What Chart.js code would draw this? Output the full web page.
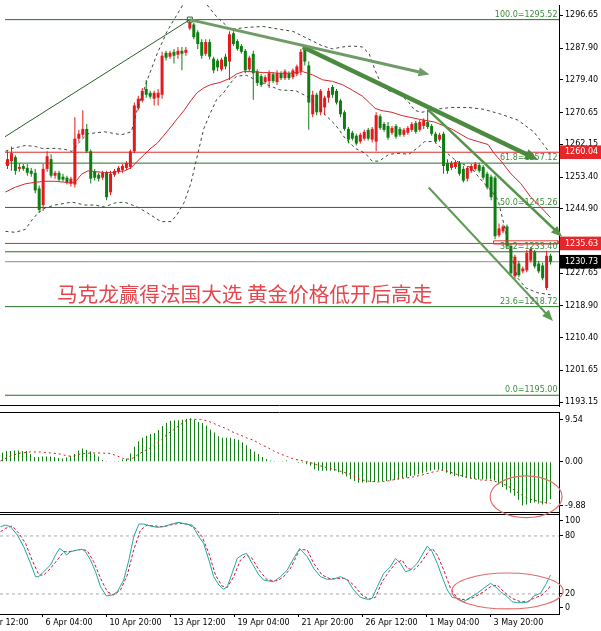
<!DOCTYPE html>
<html><head><meta charset="utf-8"><title>XAUUSD H4</title>
<script src="https://cdn.jsdelivr.net/npm/chart.js@4.4.1/dist/chart.umd.min.js"></script>
<style>
html,body{margin:0;padding:0;background:#fff;overflow:hidden;}
#wrap{position:relative;width:601px;height:631px;background:#fff;}
#wrap canvas{position:absolute;left:0;}
</style></head><body>
<div id="wrap">
<canvas id="cMain" width="601" height="411" style="top:0px;width:601px;height:411px;z-index:1"></canvas>
<canvas id="cStoch" width="601" height="117" style="top:514px;width:601px;height:117px;z-index:1"></canvas>
<canvas id="cMacd" width="601" height="108" style="top:412px;width:601px;height:108px;z-index:2"></canvas>
</div>
<script>
// ---------------- DATA ----------------
const candleOpen = [1256.36,1257.66,1258.71,1255.58,1256.36,1255.84,1255.05,1254.53,1250.35,1245.91,1255.58,1258.19,1253.75,1254.53,1253.49,1253.23,1251.66,1251.40,1263.67,1264.71,1266.28,1260.27,1254.79,1254.01,1253.23,1254.53,1249.31,1254.01,1254.79,1255.31,1255.84,1256.10,1260.27,1271.76,1273.85,1276.99,1275.94,1274.37,1274.64,1275.42,1286.65,1285.60,1286.91,1286.12,1287.17,1286.65,1293.17,1294.22,1292.13,1289.52,1286.38,1289.52,1285.08,1284.56,1282.21,1285.60,1284.30,1291.87,1289.78,1288.47,1287.17,1282.21,1286.38,1281.69,1280.38,1278.81,1279.07,1280.90,1278.81,1281.16,1279.86,1281.16,1280.12,1280.90,1281.69,1287.69,1283.25,1270.20,1275.42,1270.72,1272.02,1274.64,1277.51,1276.46,1273.85,1270.72,1266.28,1265.24,1264.45,1262.89,1263.67,1266.02,1263.41,1262.89,1269.67,1267.59,1267.06,1265.24,1267.06,1266.28,1264.71,1265.24,1266.02,1267.85,1266.02,1267.06,1268.11,1267.06,1264.97,1263.41,1264.97,1257.14,1255.84,1256.10,1257.14,1255.58,1252.96,1255.05,1255.58,1256.62,1256.10,1254.27,1253.49,1253.23,1237.82,1238.86,1240.17,1234.95,1226.85,1230.25,1228.16,1228.42,1231.03,1233.38,1230.25,1229.73,1223.72,1232.34];
const candleHigh = [1260.27,1261.58,1259.23,1257.14,1256.88,1256.88,1255.84,1255.58,1251.14,1256.88,1260.27,1259.49,1255.05,1255.05,1254.27,1253.75,1253.49,1269.41,1266.02,1271.24,1267.59,1260.80,1255.58,1254.53,1255.05,1255.05,1255.05,1255.58,1256.36,1256.88,1257.66,1260.80,1273.33,1275.16,1277.25,1279.34,1276.46,1276.46,1276.99,1286.91,1287.17,1287.17,1287.69,1288.21,1288.21,1288.21,1295.52,1294.74,1292.65,1290.30,1290.30,1290.30,1285.60,1285.08,1285.34,1286.38,1292.39,1292.39,1290.30,1289.00,1287.69,1285.86,1287.17,1282.21,1280.90,1280.64,1281.95,1281.42,1281.95,1281.69,1282.21,1281.69,1282.47,1283.51,1287.69,1288.21,1284.30,1276.46,1275.94,1276.99,1275.16,1277.25,1278.03,1276.99,1274.37,1271.24,1266.80,1265.76,1264.97,1265.24,1266.02,1266.54,1266.80,1270.72,1270.20,1268.11,1268.11,1267.06,1267.59,1266.80,1266.54,1267.06,1268.11,1268.37,1268.63,1269.15,1271.50,1267.59,1265.50,1265.24,1265.50,1258.19,1257.66,1257.93,1257.66,1256.36,1256.36,1256.88,1257.40,1257.14,1256.62,1254.79,1254.01,1253.75,1240.95,1240.69,1240.69,1235.47,1232.60,1231.03,1229.47,1233.90,1234.69,1233.90,1231.03,1230.51,1233.64,1232.86];
const candleLow = [1255.58,1255.05,1254.01,1254.79,1255.05,1253.75,1253.49,1249.05,1243.83,1244.35,1254.79,1253.23,1252.96,1252.18,1252.18,1251.40,1250.88,1250.61,1262.89,1263.93,1259.75,1251.66,1252.44,1252.18,1252.70,1247.22,1248.53,1253.49,1254.27,1254.53,1255.31,1255.58,1259.75,1271.24,1273.33,1274.64,1274.37,1272.55,1272.55,1274.37,1284.56,1285.08,1283.77,1285.08,1281.95,1285.86,1292.65,1290.30,1287.69,1285.08,1285.86,1284.82,1281.16,1281.69,1281.69,1282.21,1279.34,1288.47,1287.17,1286.38,1281.16,1281.69,1274.11,1277.77,1277.51,1278.29,1277.25,1278.55,1278.03,1279.34,1279.34,1279.34,1279.60,1280.38,1280.64,1283.25,1266.02,1269.41,1269.94,1269.94,1269.94,1273.33,1274.64,1272.81,1269.41,1265.76,1262.36,1263.15,1261.84,1262.36,1263.15,1263.15,1262.62,1260.27,1266.02,1265.50,1263.41,1264.71,1263.67,1264.19,1264.19,1264.71,1265.50,1264.97,1265.50,1266.28,1266.28,1264.45,1262.36,1262.89,1254.27,1254.27,1255.31,1255.58,1253.75,1251.92,1252.18,1254.53,1255.05,1254.53,1252.70,1250.09,1247.22,1236.78,1237.30,1238.34,1234.16,1226.85,1226.07,1226.59,1227.64,1227.90,1230.51,1228.94,1227.64,1225.81,1223.20,1229.99];
const candleClose = [1258.19,1259.75,1255.05,1256.10,1255.58,1254.53,1254.27,1249.83,1244.61,1255.58,1258.97,1253.75,1254.53,1252.70,1252.70,1251.92,1252.96,1263.67,1264.97,1266.28,1260.27,1252.96,1253.23,1252.96,1254.53,1248.00,1254.27,1255.05,1255.84,1256.36,1257.14,1260.27,1272.55,1274.37,1276.46,1275.42,1274.90,1275.94,1275.94,1285.86,1285.34,1286.65,1285.86,1287.17,1286.38,1287.43,1294.74,1290.82,1289.00,1285.86,1289.52,1285.60,1281.95,1282.73,1284.82,1282.99,1291.61,1289.00,1287.69,1286.91,1281.95,1285.34,1281.16,1278.55,1278.03,1280.12,1281.16,1279.07,1281.16,1279.86,1281.69,1279.86,1281.95,1282.99,1286.91,1284.30,1273.33,1275.42,1270.72,1276.46,1274.64,1276.46,1275.42,1273.33,1270.20,1266.28,1263.41,1263.67,1262.36,1264.71,1265.50,1263.67,1266.28,1269.94,1266.54,1266.02,1263.93,1266.54,1264.19,1264.71,1266.02,1266.54,1267.59,1265.50,1268.11,1268.63,1266.80,1264.97,1262.89,1264.71,1256.36,1255.05,1257.14,1257.40,1254.27,1252.44,1255.84,1256.36,1256.88,1255.05,1253.23,1250.61,1248.00,1237.56,1239.65,1240.17,1234.95,1227.64,1232.08,1227.12,1228.94,1233.12,1234.16,1229.47,1228.16,1226.33,1232.34,1230.73];

// moving average and Bollinger bands: [bar index, price]
const maLine = [[-0.5,1249.39],[2,1250.7],[4.5,1251.58],[7,1252.0],[9.5,1252.26],[12,1252.26],[14.5,1252.0],[16.2,1251.74],[17.4,1252.44],[18.7,1254.17],[20.3,1255.05],[22,1254.87],[24.5,1254.6],[26.2,1254.6],[27.8,1254.87],[29.5,1255.05],[31.2,1255.91],[32.8,1257.66],[34.5,1259.41],[36.2,1261.15],[37.8,1262.45],[39.5,1264.63],[41.2,1266.8],[42.8,1268.97],[44.5,1271.16],[46.2,1273.77],[47.8,1275.94],[49.5,1277.24],[51.2,1278.11],[53.7,1278.73],[56.2,1279.85],[57.8,1280.98],[59.5,1281.6],[62,1281.6],[64.5,1281.34],[66.2,1281.34],[68.7,1281.16],[71.2,1281.16],[74.5,1281.6],[77,1280.72],[79.5,1279.41],[82,1279.0],[84.5,1278.11],[87,1276.64],[89.5,1275.07],[91.25,1273.33],[92.75,1271.76],[94.5,1271.16],[97,1270.72],[99.5,1269.85],[103.75,1268.89],[107.75,1268.11],[112,1266.28],[116.25,1263.67],[118.75,1262.88],[121.25,1262.1],[122.75,1259.75],[124.5,1257.66],[127,1254.27],[129.5,1251.66],[132,1248.0],[134.5,1245.39],[137,1242.52]];
const bbUpper = [[-0.5,1260.3],[1.25,1261.06],[4.5,1261.84],[7,1261.58],[8.75,1261.06],[12,1261.06],[14.5,1260.80],[16.25,1260.27],[18.25,1262.89],[20.25,1264.97],[24.5,1265.50],[28.75,1264.71],[31.25,1265.50],[32.75,1271.50],[35.25,1279.34],[37.75,1286.38],[40.25,1292.39],[42.75,1296.83],[44.5,1299.96],[46.25,1301.53],[48.25,1302.05],[49.5,1300.75],[50.75,1298.92],[52.75,1296.31],[56.25,1292.91],[60.25,1293.43],[64.5,1293.70],[68.75,1292.91],[72,1292.39],[74.5,1291.08],[77,1289.78],[79.5,1288.47],[82,1287.69],[84.5,1288.21],[87,1288.47],[89.5,1288.21],[91.25,1286.38],[92.75,1281.95],[94.5,1277.77],[96.25,1276.46],[98.75,1275.94],[101.25,1273.33],[102.75,1271.24],[104.5,1270.72],[107.75,1271.50],[112,1272.02],[116.25,1272.02],[120.25,1271.50],[124.5,1270.20],[128.75,1268.63],[132.75,1265.50],[135.25,1262.10],[137,1259.49]];
const bbLower = [[-0.5,1238.86],[2,1238.60],[4.5,1239.39],[6.25,1242.0],[7.75,1243.83],[9.5,1245.13],[12,1245.91],[16.25,1246.70],[19.5,1245.91],[22,1245.91],[24.5,1245.39],[27,1246.44],[29.5,1246.70],[32.75,1245.39],[35.25,1243.83],[38.75,1241.47],[41.25,1241.47],[42.75,1243.30],[44.5,1246.44],[46.25,1251.66],[47.75,1258.45],[49.5,1266.28],[51.25,1270.72],[52.75,1274.11],[54.5,1275.94],[56.25,1278.55],[57.75,1280.38],[60.25,1280.64],[63.25,1279.07],[66.25,1277.77],[68.75,1276.72],[72.75,1276.46],[76.25,1274.64],[79.5,1270.72],[82.75,1267.33],[85.25,1263.67],[87.75,1261.06],[90.25,1259.75],[92,1257.66],[93.75,1257.66],[96.25,1259.49],[98.75,1259.75],[101.25,1259.49],[103.25,1261.06],[105.25,1262.89],[107.75,1262.89],[109.5,1261.06],[113.25,1257.66],[117,1255.84],[120.25,1251.66],[122,1249.83],[123.75,1247.22],[125.25,1240.69],[127,1232.86],[128.75,1226.33],[130.75,1223.72],[133.75,1222.42],[137,1221.89]];

// drawn objects (bar index, price)
const fibLevels = [100.0, 61.8, 50.0, 38.2, 23.6, 0.0];
const fibPrices = [1295.52, 1257.12, 1245.26, 1233.40, 1218.72, 1195.00];
const redLevels = [1260.04, 1235.63];
const bidPrice = 1230.73;
const fibDiagonal = [[-0.625,1264.19],[46,1295.52]];
const fibAnchor = [[46,1295.52]];
const arrowA = [[46,1295.52],[105.25,1281.16]];
const arrowB = [[74.5,1288.21],[132.5,1258.71]];
const arrowC = [[106.25,1271.24],[139,1238.34]];
const arrowD = [[106.25,1250.61],[136.75,1215.87]];
const priceBox = [[122.6,1236.33],[138.9,1236.33],[138.9,1235.47],[122.6,1235.47],[122.6,1236.33]];
const headline = '马克龙赢得法国大选 黄金价格低开后高走';
// highlight ellipses: [centre bar index, centre value, radius in bars, radius in value units]
const macdEllipse = [130.9, -6.9, 9.0, 4.1];
const stochEllipse = [126.25, 23.1, 13.9, 18.6];

// axis labels
const priceTicks = [1296.65,1287.90,1279.40,1270.65,1262.15,1253.40,1244.90,1227.65,1218.90,1210.40,1201.65,1193.15];
const markedPrices = [1260.04, 1235.63, 1230.73];
const markedColors = ['#e5262b', '#e5262b', '#000000'];
const timeTickIdx = [-6, 10, 26, 42, 58, 74, 90, 106, 122];
const timeLabels = ['3 Apr 12:00','6 Apr 04:00','10 Apr 20:00','13 Apr 12:00','19 Apr 04:00','21 Apr 20:00','26 Apr 12:00','1 May 04:00','3 May 20:00'];
const macdTicks = [9.54, 0.00, -9.88];
const stochTicks = [100, 80, 20, 0];
const stochLevels = [80, 20];

// MACD
const macdHist = [1.8,2.1,2.1,2.2,2.2,2.1,2.1,1.5,0.9,0.9,1.0,1.0,1.0,0.9,0.7,0.6,0.8,1.1,1.5,2.2,2.6,2.3,2.0,1.5,1.0,0.3,0.1,0.1,0.1,0.1,0.4,0.6,1.6,2.9,4.0,4.7,5.1,5.4,5.6,6.2,7.0,7.6,8.0,8.1,8.1,8.2,8.4,8.5,8.2,7.8,7.6,7.1,6.3,5.7,5.0,4.7,4.7,4.7,4.5,4.3,3.8,3.2,2.5,2.0,1.5,0.9,0.5,0.2,0.1,0.1,0.1,0.2,0.0,0.0,-0.2,-0.2,-0.5,-0.8,-1.5,-1.8,-1.8,-1.8,-1.8,-1.8,-2.1,-2.5,-2.9,-3.4,-3.8,-4.1,-4.1,-4.1,-4.0,-4.0,-3.9,-3.8,-3.8,-3.7,-3.6,-3.5,-3.2,-3.1,-2.8,-2.7,-2.5,-2.3,-2.0,-1.8,-1.6,-1.6,-1.8,-2.2,-2.5,-2.8,-2.9,-3.0,-3.2,-3.3,-3.4,-3.5,-3.5,-3.5,-3.5,-3.7,-4.5,-5.0,-5.5,-6.1,-6.7,-7.5,-8.6,-8.4,-8.1,-8.0,-8.2,-8.4,-8.2,-7.4];
const macdSignal = [[-0.5,0.15],[2,1.1],[4.5,1.7],[7,1.9],[9.5,1.9],[12,1.7],[14.5,1.5],[16.2,1.1],[17.8,1.1],[19.5,1.5],[22,1.7],[24.5,1.7],[27,1.6],[28.7,1.1],[30.3,0.6],[32,0.45],[32.8,0.8],[34.5,1.7],[36.2,2.4],[37.8,3.1],[39.5,4.1],[41.2,5.4],[42.8,6.3],[44.5,7.3],[46.2,8.2],[47.8,8.3],[49.5,8.3],[51.2,8.0],[52.8,7.5],[54.5,6.9],[56.2,6.4],[57.8,5.7],[59.5,5.2],[61.2,4.6],[62.8,4.2],[64.5,3.4],[66.2,2.8],[67.8,2.1],[69.5,1.5],[71.2,1.0],[72.8,0.5],[74.5,0.25],[77,-0.2],[79.5,-0.85],[82.8,-1.5],[87,-2.5],[89.5,-3.5],[91.2,-3.8],[93.7,-4.0],[96.2,-3.8],[99.5,-3.3],[102,-3.1],[104.5,-2.7],[107.8,-2.0],[110.3,-1.6],[112.8,-2.3],[116.2,-3.1],[119.5,-3.6],[122,-3.7],[124.5,-4.1],[127,-5.1],[129.5,-6.4],[132,-7.4],[134.5,-7.9],[137,-8.2]];

// Stochastic
const stochMain = [[-0.5,89.6],[0.75,91.3],[2,89.6],[3.7,81],[5.3,68.9],[7,51.7],[8.25,37.9],[9.1,37.9],[10.3,43],[12,50],[13.25,60.3],[14.3,67.2],[15.3,63.7],[16,60.3],[17,63.7],[18.7,65.5],[19.9,66.2],[20.75,63.7],[22,55.1],[23.25,43],[24.5,27.5],[26,17.9],[27.4,18.9],[28.7,22.3],[30.3,34.4],[31.6,55.1],[32.8,79.2],[34.1,92.3],[35.3,92.3],[37,90.3],[38.7,88.9],[40.3,89.6],[42,92],[44.1,94.1],[45.75,92.3],[47.4,91.3],[49.1,79.2],[50.3,72.4],[51.6,55.1],[52.8,37.9],[54.1,29.3],[55.2,24.8],[56.2,27.5],[57.4,41.4],[58.7,56.9],[59.9,60.3],[61,62],[62.4,51.7],[64.1,39.6],[65.3,34.4],[66.6,33.4],[67.8,32.7],[69.5,37.9],[71.2,44.8],[72.8,56.9],[74.3,67],[76.2,58.5],[77.8,46.5],[79.5,37.9],[81.2,35.1],[82.8,35.5],[84.5,37.9],[86.2,34.4],[87.8,24.1],[89.5,16.5],[91.2,14.5],[92.4,15.5],[93.7,27.5],[95.3,41.4],[97,48.2],[98.25,56.9],[99.5,51.7],[100.75,43],[102,44.8],[103.7,51.7],[104.9,60.3],[106.2,69.6],[107.4,63.7],[108.7,51.7],[109.9,37.9],[111.2,24.1],[112.4,16.5],[113.7,15.5],[115.3,12],[117,16.5],[118.7,20.7],[120.3,25.9],[122,31],[123.25,27.5],[124.5,22.3],[126.2,17.2],[127.4,12],[128.7,11],[130.3,11],[131.6,12],[132.8,17.9],[134.5,20.7],[135.75,29.3],[137,39.6]];
const stochSignal = [[-0.5,84.4],[0.75,87.9],[2.4,90.3],[4.1,82.7],[5.75,72.4],[7.4,55.1],[9.1,39.6],[10.3,39.6],[12,46.5],[13.7,55.1],[15.3,63.7],[16.6,63.7],[17.8,64.7],[19.9,66.2],[21.2,64.7],[22.8,53.4],[24.5,36.2],[26.2,22.3],[27.8,18.9],[29.5,24.1],[31.2,39.6],[32.8,65.5],[34.5,86.1],[36.2,91.3],[37.8,90.3],[40.3,89.6],[42,91.3],[44.1,93.1],[46.2,92.3],[48.25,87.9],[49.9,79.2],[51.6,62],[53.25,39.6],[54.9,28.2],[56.2,26.9],[57.8,37.9],[59.5,55.1],[61,60.3],[62.4,56.9],[64.1,44.8],[66.2,34.4],[68.7,33.7],[70.3,37.9],[72,46.5],[74.3,66],[76.2,65.5],[77.8,51.7],[79.9,39.6],[82,35.5],[84.1,36.2],[85.75,36.2],[87.8,29.3],[89.9,18.9],[91.6,14.5],[93.25,16.5],[94.9,32.7],[96.6,43],[98.25,51.7],[99.9,55.1],[101.2,46.5],[102.8,44.8],[104.5,51.7],[106.2,62],[107.4,67.2],[108.7,60.3],[110.3,44.8],[112,25.9],[113.7,15.5],[115.75,13.8],[117.8,16.5],[119.9,21.3],[122,27.5],[123.7,29.3],[125.3,22.3],[127.4,15.5],[129.5,12],[131.2,12],[132.8,15.5],[134.9,18.9],[136.6,25.9],[137,29.3]];

// ---------------- STYLE / BUILD ----------------
Chart.defaults.font.family = '"DejaVu Sans", sans-serif';
Chart.defaults.font.size = 8;
Chart.defaults.color = '#000';

const X_MIN = -0.625, X_MAX = 139.125;
const UP_COLOR = '#e3191c', DOWN_COLOR = '#0e7e12';
const ELLIPSE_COLOR = '#e36a6a';
const xHidden = {type:'linear', min:X_MIN, max:X_MAX, offset:false, display:false, grid:{offset:false}};
const baseOpts = {responsive:false, maintainAspectRatio:false, animation:false, events:[],
  layout:{padding:0}, plugins:{legend:{display:false}, tooltip:{enabled:false}, title:{display:false}}};

function yRight(min, max, ticks, afterBuildTicks) {
  return {type:'linear', position:'right', min, max, bounds:'data', beginAtZero:false,
    border:{display:true, color:'#000', width:1},
    grid:{drawOnChartArea:false, drawTicks:true, tickLength:4, color:'#000'},
    ticks:Object.assign({autoSkip:false, padding:2, color:'#000', font:{size:8}}, ticks),
    afterBuildTicks,
    afterFit(s){ s.width = 42; s.paddingTop = 0; s.paddingBottom = 0; }};
}
function lineDs(pairs, color, width, dash, order, extra) {
  return Object.assign({type:'line', data:pairs.map(p => ({x:p[0], y:p[1]})), borderColor:color,
    borderWidth:width, borderDash:dash || [], pointRadius:0, fill:false, tension:0, order}, extra || {});
}
function hLine(level, color, dash, order) {
  return lineDs([[X_MIN, level],[X_MAX, level]], color, 1, dash, order);
}
function insetTicks(list, frac) {
  return function(s) {
    const r = s.max - s.min;
    s.ticks = list.map(v => ({value: Math.max(s.min + frac * r, Math.min(s.max - frac * r, v))}));
  };
}
const framePlugin = (top, bottom) => ({id:'frame', afterDraw(chart){
  const {ctx, chartArea:a} = chart;
  ctx.save(); ctx.strokeStyle = '#000'; ctx.lineWidth = 1; ctx.beginPath();
  if (top) { ctx.moveTo(0, a.top + 0.5); ctx.lineTo(a.right, a.top + 0.5); }
  if (bottom) { ctx.moveTo(0, a.bottom - 0.5); ctx.lineTo(a.right, a.bottom - 0.5); }
  ctx.stroke(); ctx.restore();
}});
const ellipsePlugin = (spec) => ({id:'ellipse', afterDraw(chart){
  const {ctx, scales:{x, y}} = chart;
  const cx = x.getPixelForValue(spec[0]), cy = y.getPixelForValue(spec[1]);
  const rx = Math.abs(x.getPixelForValue(spec[0] + spec[2]) - cx);
  const ry = Math.abs(y.getPixelForValue(spec[1] + spec[3]) - cy);
  ctx.save(); ctx.strokeStyle = ELLIPSE_COLOR; ctx.lineWidth = 1.2;
  ctx.beginPath(); ctx.ellipse(cx, cy, rx, ry, 0, 0, Math.PI * 2); ctx.stroke(); ctx.restore();
}});

// ---- main chart ----
const candleColors = candleOpen.map((o, i) => candleClose[i] >= o ? UP_COLOR : DOWN_COLOR);
const mainDatasets = [
  lineDs(arrowA, '#6f9c66', 3, [], 0, {arrowHead:[11, 4.5]}),
  lineDs(arrowB, '#4c8a40', 4.5, [], 0, {arrowHead:[13, 5.5]}),
  lineDs(arrowC, '#559449', 2.5, [], 0, {arrowHead:[11, 4.5]}),
  lineDs(arrowD, '#5f9b56', 2, [], 0, {arrowHead:[11, 4.5]}),
  lineDs(fibAnchor, '#2f5f2f', 1, [], 0, {pointRadius:3.6, pointStyle:'rect', pointBorderColor:'#2f5f2f', pointBackgroundColor:'rgba(255,255,255,0)', pointBorderWidth:1, showLine:false}),
  lineDs(fibDiagonal, '#2a5e2a', 1, [], 1),
  lineDs(priceBox, '#e23a3a', 1, [], 1),
  lineDs(maLine, '#d8262b', 1, [], 2),
  lineDs(bbUpper, '#3b4a3b', 1, [3,3], 2),
  lineDs(bbLower, '#3b4a3b', 1, [3,3], 2),
  {type:'bar', data:candleOpen.map((o, i) => ({x:i, y:[o, candleClose[i]]})), backgroundColor:candleColors,
    barThickness:3, minBarLength:1, grouped:false, inflateAmount:0, order:3},
  {type:'bar', data:candleOpen.map((o, i) => ({x:i, y:[candleLow[i], candleHigh[i]]})), backgroundColor:candleColors,
    barThickness:1, grouped:false, inflateAmount:0, order:4},
  ...fibPrices.map(p => hLine(p, '#237223', [], 5)),
  ...redLevels.map(p => hLine(p, '#e02828', [], 5)),
  hLine(bidPrice, '#8c8c8c', [], 5)
];

const mainDecor = {id:'mainDecor', afterDatasetsDraw(chart){
  const {ctx, chartArea:a, scales:{y}} = chart;
  ctx.save();
  chart.data.datasets.forEach((ds, di) => {
    if (!ds.arrowHead) return;
    const els = chart.getDatasetMeta(di).data;
    const p1 = els[els.length - 2], p2 = els[els.length - 1];
    const ang = Math.atan2(p2.y - p1.y, p2.x - p1.x), c = Math.cos(ang), s = Math.sin(ang);
    const [len, half] = ds.arrowHead;
    const tx = p2.x + c * len * 0.45, ty = p2.y + s * len * 0.45;
    const bx = tx - c * len, by = ty - s * len;
    ctx.fillStyle = ds.borderColor;
    ctx.beginPath(); ctx.moveTo(tx, ty);
    ctx.lineTo(bx + s * half, by - c * half); ctx.lineTo(bx - s * half, by + c * half);
    ctx.closePath(); ctx.fill();
  });
  ctx.font = '8px "DejaVu Sans"'; ctx.fillStyle = '#3c8c3c'; ctx.textAlign = 'right'; ctx.textBaseline = 'middle';
  fibPrices.forEach((p, k) => ctx.fillText(fibLevels[k].toFixed(1) + '=' + p.toFixed(2), a.right - 1.5, y.getPixelForValue(p) - 5));
  ctx.font = '20.6px "Noto Sans CJK SC"'; ctx.fillStyle = '#e4474e'; ctx.textAlign = 'left'; ctx.textBaseline = 'middle';
  ctx.fillText(headline, a.left + 52, 294);
  ctx.restore();
}};

new Chart(document.getElementById('cMain'), {
  type:'bar',
  data:{datasets:mainDatasets},
  options:Object.assign({}, baseOpts, {scales:{
    x:xHidden,
    y:yRight(1192.127, 1299.437, {
      callback:(v) => Number(v).toFixed(2),
      color:(ctx) => (ctx.tick && markedPrices.includes(ctx.tick.value)) ? '#fff' : '#000',
      showLabelBackdrop:(ctx) => !!(ctx.tick && markedPrices.includes(ctx.tick.value)),
      backdropColor:(ctx) => ctx.tick ? (markedColors[markedPrices.indexOf(ctx.tick.value)] || 'rgba(0,0,0,0)') : 'rgba(0,0,0,0)',
      backdropPadding:{left:5, right:3, top:2, bottom:2}
    }, (s) => { s.ticks = priceTicks.concat(markedPrices).map(v => ({value:v})); })
  }}),
  plugins:[mainDecor, framePlugin(false, true)]
});

// ---- MACD chart (canvas overhangs 7px below its panel so the ellipse can cross the border) ----
new Chart(document.getElementById('cMacd'), {
  type:'bar',
  data:{datasets:[
    lineDs(macdSignal, '#cf2222', 1, [2,3], 0),
    {type:'bar', data:macdHist.map((v, i) => ({x:i, y:v})), backgroundColor:'#127f14', barThickness:1, grouped:false, inflateAmount:0, order:1}
  ]},
  options:Object.assign({}, baseOpts, {layout:{padding:{bottom:7}}, scales:{
    x:xHidden,
    y:yRight(-10.08, 9.74, {callback:(v, i) => macdTicks[i].toFixed(2)}, insetTicks(macdTicks, 0.075))
  }}),
  plugins:[framePlugin(true, true), ellipsePlugin(macdEllipse)]
});

// ---- Stochastic chart ----
new Chart(document.getElementById('cStoch'), {
  type:'line',
  data:{datasets:[
    lineDs(stochMain, '#22a89f', 1, [], 0),
    lineDs(stochSignal, '#d0143a', 1, [3,2], 1),
    ...stochLevels.map(l => hLine(l, '#ababab', [3,3], 2))
  ]},
  options:Object.assign({}, baseOpts, {scales:{
    x:{type:'linear', min:X_MIN, max:X_MAX, offset:false, position:'bottom',
      border:{display:true, color:'#000', width:1},
      grid:{offset:false, drawOnChartArea:false, drawTicks:true, tickLength:3, color:'#000'},
      ticks:{autoSkip:false, maxRotation:0, minRotation:0, align:'start', labelOffset:3, padding:1, color:'#000', font:{size:8},
        callback:(v, i) => timeLabels[i]},
      afterBuildTicks(s){ s.ticks = timeTickIdx.map(v => ({value:v})); },
      afterFit(s){ s.height = 17; s.paddingLeft = 0; s.paddingRight = 0; }},
    y:yRight(-0.7, 102.7, {callback:(v, i) => String(stochTicks[i])}, insetTicks(stochTicks, 0.065))
  }}),
  plugins:[framePlugin(true, false), ellipsePlugin(stochEllipse)]
});
</script>
</body></html>
